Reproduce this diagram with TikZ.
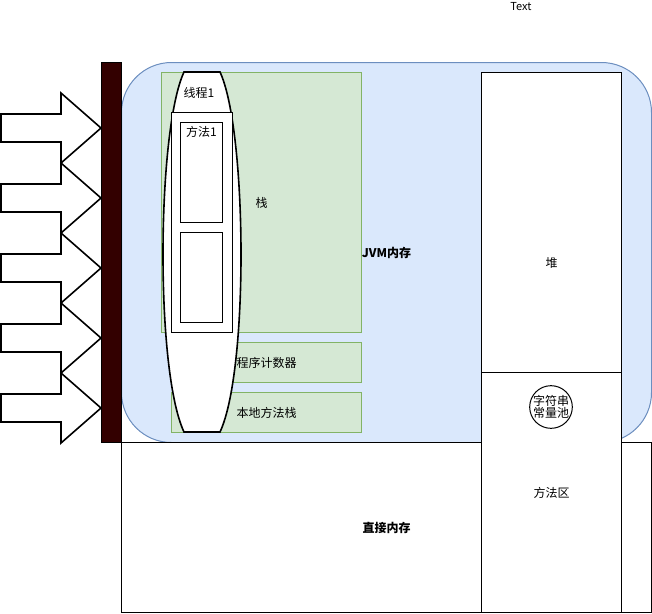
\documentclass[tikz,border=0pt]{standalone}
\usepackage{fontspec}
\newfontfamily\cjk{Noto Sans CJK SC}
\usetikzlibrary{positioning}
\definecolor{jvmfill}{HTML}{DAE8FC}
\definecolor{jvmline}{HTML}{6C8EBF}
\definecolor{stackfill}{HTML}{D5E8D4}
\definecolor{stackline}{HTML}{82B366}
\definecolor{gatefill}{HTML}{330000}
\tikzset{%
  area/.style      = {shape=rectangle, draw, fill=white, inner sep=0pt,%
                      anchor=north west, line width=1pt},%
  jvmarea/.style   = {area, draw=jvmline, fill=jvmfill, rounded corners=50pt},%
  greenarea/.style = {area, draw=stackline, fill=stackfill},%
  gate/.style      = {area, fill=gatefill, line width=1pt},%
  pool/.style      = {circle, draw, fill=white, inner sep=0pt,%
                      minimum size=40pt, align=center, line width=1pt},%
  inarrow/.style   = {draw, fill=white, line width=1.6pt, line join=miter},%
  thread/.style    = {draw, fill=white, line width=1.6pt}%
}

\begin{document}
\begin{tikzpicture}[x=1pt, y=-1pt,%
	every node/.style = {font=\cjk\fontsize{12pt}{14pt}\selectfont}]%
	\useasboundingbox (0,0) rectangle (652,613);
	% JVM memory and the areas around it
	\node[jvmarea, minimum width=530pt, minimum height=380pt] (jvm) at (121,62) {\textbf{JVM内存}};%
	\node[area, minimum width=530pt, minimum height=170pt] (direct) at (121,442) {\textbf{直接内存}};%
	\node[area, minimum width=140pt, minimum height=380pt] (heap) at (481,72) {堆};%
	\node[area, minimum width=140pt, minimum height=240pt] (methodarea) at (481,372) {方法区};%
	\node[pool] (strpool) at (551,407) {字符串\\[-2pt]常量池};%
	% per-thread areas
	\node[greenarea, minimum width=200pt, minimum height=260pt] (stack) at (161,72) {栈};%
	\node[greenarea, minimum width=190pt, minimum height=40pt] (pc) at (171,342) {程序计数器};%
	\node[greenarea, minimum width=190pt, minimum height=40pt] (native) at (171,392) {本地方法栈};%
	% the thread
	\draw[thread] (184,72) -- (220,72) .. controls (247,130) and (249,370) .. (220,432)%
		-- (184,432) .. controls (155,370) and (157,130) .. (184,72) -- cycle;%
	\node (threadname) at (199,93) {线程1};%
	\node[area, minimum width=61pt, minimum height=220pt] (frames) at (171,112) {};%
	\node[area, minimum width=42pt, minimum height=100pt] (method1) at (180,122) {};%
	\node[below=4pt of method1.north, inner sep=0pt, anchor=north] (method1name) {方法1};%
	\node[area, minimum width=42pt, minimum height=90pt] (method2) at (180,232) {};%
	% incoming arrows
	\foreach \ty in {128,198,268,338,408}%
		\draw[inarrow] (1,\ty-14) -- (61,\ty-14) -- (61,\ty-35) -- (101,\ty)%
			-- (61,\ty+35) -- (61,\ty+14) -- (1,\ty+14) -- cycle;%
	\node[gate, minimum width=20pt, minimum height=380pt] (wall) at (101,62) {};%
	\node[font=\cjk\fontsize{11pt}{13pt}\selectfont] (title) at (521,7) {Text};%
\end{tikzpicture}
\end{document}
